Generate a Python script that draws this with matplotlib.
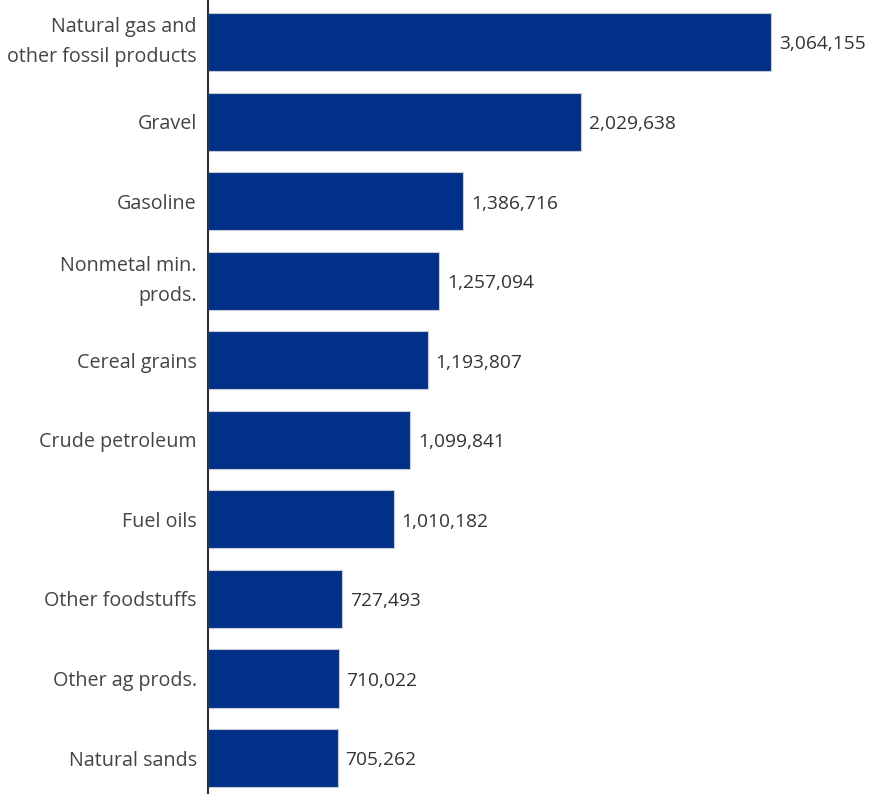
import matplotlib.pyplot as plt

plt.rcParams['font.family'] = ['Open Sans', 'DejaVu Sans']

# 品目別の輸送量
commodities = ["Natural gas and\nother fossil products", "Gravel", "Gasoline",
               "Nonmetal min.\nprods.", "Cereal grains", "Crude petroleum",
               "Fuel oils", "Other foodstuffs", "Other ag prods.", "Natural sands"]
tons = [3064155, 2029638, 1386716, 1257094, 1193807, 1099841,
        1010182, 727493, 710022, 705262]

fig = plt.figure(figsize=(8.7, 7.94), dpi=100)
ax = fig.add_axes([208 / 870, 0, 662 / 870, 1])

pos = list(range(len(commodities)))
ax.barh(pos, tons, height=0.73, color="#003087", edgecolor="#c8cbd4", linewidth=0.8)

# 棒の右側に数値ラベル
for p, v in zip(pos, tons):
    ax.text(v + 43000, p + 0.03, f"{v:,}", va="center", ha="left",
            fontsize=13.8, color="#333333")

ax.set_xlim(0, 3600000)
ax.set_ylim(9.452, -0.528)
ax.set_yticks(pos)
ax.set_yticklabels(commodities, fontsize=14.2, color="#444444", linespacing=1.65)
# 2行ラベルは棒の中央に揃える
for lbl in ax.get_yticklabels():
    if "\n" in lbl.get_text():
        lbl.set_va("center")
ax.tick_params(axis="y", length=0, pad=8)
ax.set_xticks([])

for side in ["top", "right", "bottom"]:
    ax.spines[side].set_visible(False)
ax.spines["left"].set_color("#333333")
ax.spines["left"].set_linewidth(1.5)

fig.savefig("out.png", dpi=100)
